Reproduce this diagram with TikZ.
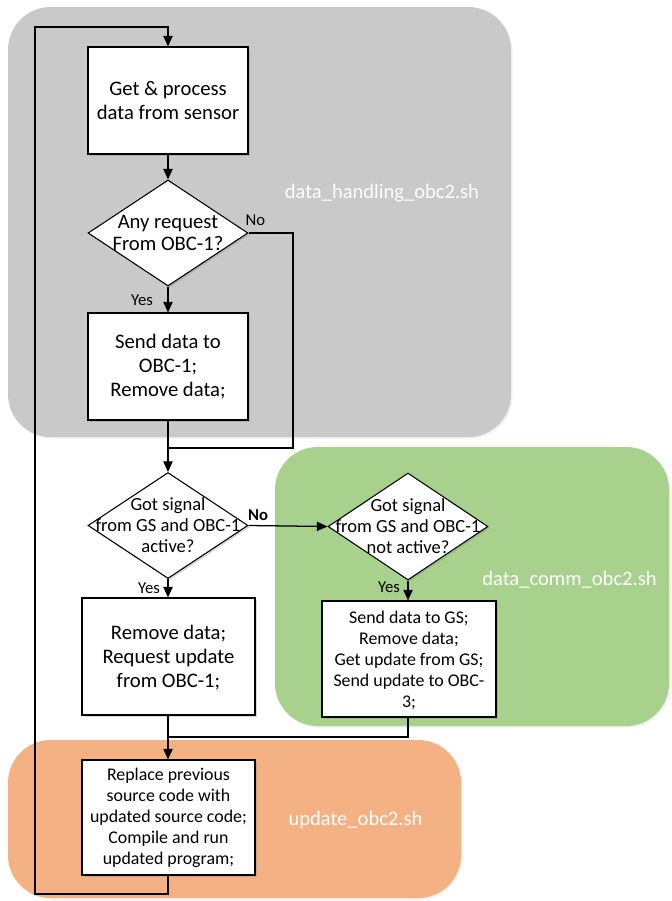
\documentclass[tikz,border=0pt]{standalone}
\usepackage{fontspec}
\setmainfont{Carlito}
\usetikzlibrary{shapes.geometric,arrows.meta,shadows}

\definecolor{regGray}{HTML}{C9C9C9}
\definecolor{regGreen}{HTML}{A9D18E}
\definecolor{regOrange}{HTML}{F4B183}

\tikzset{
  region/.style={rounded corners=32pt, drop shadow={shadow xshift=1.2pt, shadow yshift=-1.2pt, opacity=0.12}},
  procbox/.style={draw=black, line width=0.8pt, fill=white, rectangle, inner sep=0pt,
    drop shadow={shadow xshift=1.3pt, shadow yshift=-1.3pt, opacity=0.3}},
  decbox/.style={draw=black, line width=0.8pt, fill=white, diamond, inner sep=0pt,
    minimum width=120pt, minimum height=79.5pt,
    drop shadow={shadow xshift=1.3pt, shadow yshift=-1.3pt, opacity=0.3}},
  bigtxt/.style={align=center, font=\fontsize{15.5}{18}\selectfont},
  dtxtA/.style={align=center, inner sep=0pt, font=\fontsize{15.5}{16.5}\selectfont},
  dtxtB/.style={align=center, inner sep=0pt, font=\fontsize{13.9}{15.75}\selectfont},
  smalltxt/.style={align=center, font=\fontsize{13.4}{15.75}\selectfont},
  yn/.style={inner sep=0pt, font=\fontsize{12.5}{14}\selectfont},
  reglabel/.style={text=white, inner sep=0pt, font=\fontsize{15.4}{18}\selectfont},
  flow/.style={line width=0.95pt, draw=black},
  arr/.style={flow, -{Triangle[length=8pt,width=7pt]}},
}

\begin{document}
\begin{tikzpicture}[x=0.75pt,y=-0.75pt]
\useasboundingbox (0,0) rectangle (672,901);

% script regions
\fill[region, fill=regGray]   (8,7)     rectangle (511,437);
\fill[region, fill=regGreen]  (275,447) rectangle (669,726);
\fill[region, fill=regOrange] (8,740)   rectangle (461,898);

\node[reglabel] (labHandling) at (382,193) {data\_handling\_obc2.sh};
\node[reglabel] (labComm)     at (569.5,580) {data\_comm\_obc2.sh};
\node[reglabel] (labUpdate)   at (355.5,820) {update\_obc2.sh};

% process steps and decisions
\node[procbox, minimum width=120pt, minimum height=80.25pt] (b1) at (168,100.5) {};
\node[bigtxt] at (b1) {Get \& process\\data from sensor};

\node[decbox] (d1) at (168,233) {};
\node[dtxtA] at (d1) {Any request\\From OBC-1?};

\node[procbox, minimum width=120pt, minimum height=80.25pt] (b2) at (168,366.5) {};
\node[bigtxt] at (b2) {Send data to\\OBC-1;\\Remove data;};

\node[decbox] (d2) at (168,525.5) {};
\node[dtxtB] at (d2) {Got signal\\from GS and OBC-1\\active?};

\node[decbox, minimum height=80.25pt] (d3) at (408,526.5) {};
\node[dtxtB] at (d3) {Got signal\\from GS and OBC-1\\not active?};

\node[procbox, minimum width=129.75pt, minimum height=87.75pt] (b3) at (168.5,656.5) {};
\node[bigtxt] at ([yshift=-1pt]b3.center) {Remove data;\\Request update\\from OBC-1;};

\node[procbox, minimum width=130.5pt, minimum height=87pt] (b4) at (409,659) {};
\node[smalltxt] at ([yshift=-1pt]b4.center) {Send data to GS;\\Remove data;\\Get update from GS;\\Send update to OBC-\\3;};

\node[procbox, minimum width=129.75pt, minimum height=86.25pt] (b5) at (168.5,817.5) {};
\node[smalltxt] at (b5) {Replace previous\\source code with\\updated source code;\\Compile and run\\updated program;};

% branch labels
\node[yn] (noA)  at (255.5,220) {No};
\node[yn] (yesA) at (142,300.5) {Yes};
\node[yn, font=\fontsize{12.5}{14}\selectfont\bfseries] (noB) at (258,515) {No};
\node[yn] (yesB) at (149,588) {Yes};
\node[yn] (yesC) at (389,587) {Yes};

% routing points
\coordinate (noTurn) at (293,448);
\coordinate (joinA)  at (168,448);
\coordinate (joinB)  at (168,737);
\coordinate (loopBot) at (35,894);
\coordinate (loopTop) at (35,27);

% connectors
\draw[arr] (b1.south) -- (d1.north);
\draw[arr] (d1.south) -- (b2.north);
\draw[flow] (d1.east) -| (noTurn) -- (joinA);
\draw[arr] (b2.south) -- (d2.north);
\draw[arr] (d2.east) -- (d3.west);
\draw[arr] (d2.south) -- (d2.south |- b3.north);
\draw[arr] (d3.south) -- (d3.south |- b4.north);
\draw[flow] (b4.south -| d3.south) |- (joinB);
\draw[arr] (b3.south -| joinB) -- (joinB |- b5.north);
\draw[arr] (b5.south -| joinB) |- (loopBot) -- (loopTop) -| (b1.north);
\end{tikzpicture}
\end{document}
